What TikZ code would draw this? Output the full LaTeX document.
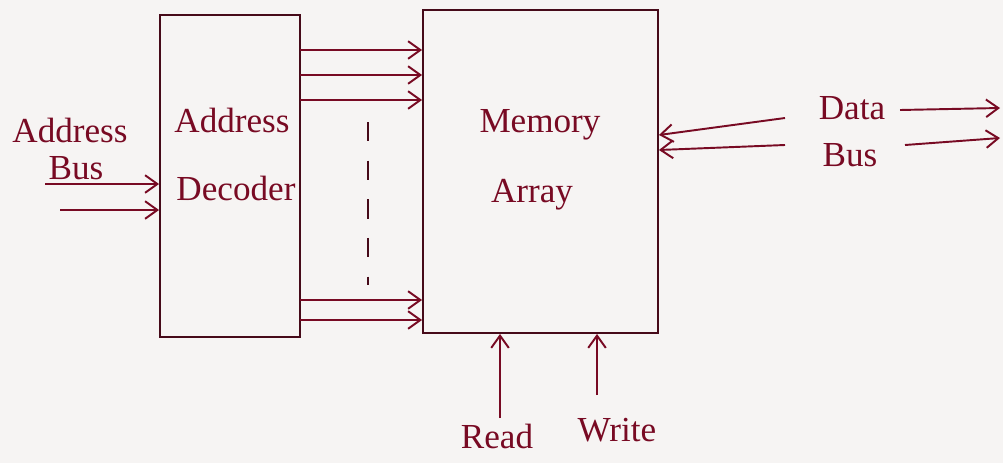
\documentclass[tikz,border=0pt]{standalone}
\usepackage{fontspec}
\setmainfont{Liberation Serif}
\usetikzlibrary{arrows.meta}
\definecolor{ink}{RGB}{120,10,35}
\definecolor{boxink}{RGB}{70,10,25}
\definecolor{paper}{RGB}{246,244,243}
\begin{document}
\begin{tikzpicture}[x=0.02cm,y=-0.02cm,
  blk/.style={draw=boxink,line width=1.1pt,minimum width=#1},
  wire/.style={draw=ink,line width=1.1pt,-{Straight Barb[length=7pt,width=10pt]}},
  lbl/.style={text=ink,font=\fontsize{20}{24}\selectfont,inner sep=0pt}]
\fill[paper] (0,0) rectangle (1003,463);
\useasboundingbox (0,0) rectangle (1003,463);
% blocks
\node[blk=2.8cm,minimum height=6.44cm] (dec) at (230,176) {};
\node[blk=4.7cm,minimum height=6.46cm] (mem) at (540.5,171.5) {};
% texts
\node[lbl] (t1) at (232,120) {Address};
\node[lbl] (t2) at (236,188) {Decoder};
\node[lbl] (t3) at (540,125) {Memory};
\node[lbl] (t4) at (532,195) {Array};
\node[lbl] (t5) at (70,130) {Address};
\node[lbl] (t6) at (76,168) {Bus};
\node[lbl] (t7) at (852,108) {Data};
\node[lbl] (t8) at (850,155) {Bus};
\node[lbl] (t9) at (497,436) {Read};
\node[lbl] (t10) at (617,430) {Write};
% address bus inputs
\coordinate (a1) at (45,184);
\coordinate (a2) at (60,210);
\draw[wire] (a1) -- (a1 -| dec.west);
\draw[wire] (a2) -- (a2 -| dec.west);
% decoder outputs
\foreach \y/\n in {50/o1,75/o2,100/o3,300/o4,320/o5}{
  \coordinate (\n) at (300,\y);
  \draw[wire] (\n) -- (\n -| mem.west);
}
\coordinate (d1) at (368,122);
\coordinate (d2) at (368,285);
\draw[draw=boxink,line width=1.1pt,dash pattern=on 11pt off 11pt] (d1) -- (d2);
% data bus
\coordinate (b1) at (785,118);
\coordinate (b2) at (785,145);
\coordinate (m1) at (658,135);
\coordinate (m2) at (658,150);
\draw[wire] (b1) -- (m1 -| mem.east);
\draw[wire] (b2) -- (m2 -| mem.east);
\coordinate (c1) at (900,110);
\coordinate (c2) at (1000,108);
\coordinate (c3) at (905,145);
\coordinate (c4) at (1000,138);
\draw[wire] (c1) -- (c2);
\draw[wire] (c3) -- (c4);
% read / write
\coordinate (r1) at (500,418);
\coordinate (w1) at (597,395);
\draw[wire] (r1) -- (r1 |- mem.south);
\draw[wire] (w1) -- (w1 |- mem.south);
\end{tikzpicture}
\end{document}
